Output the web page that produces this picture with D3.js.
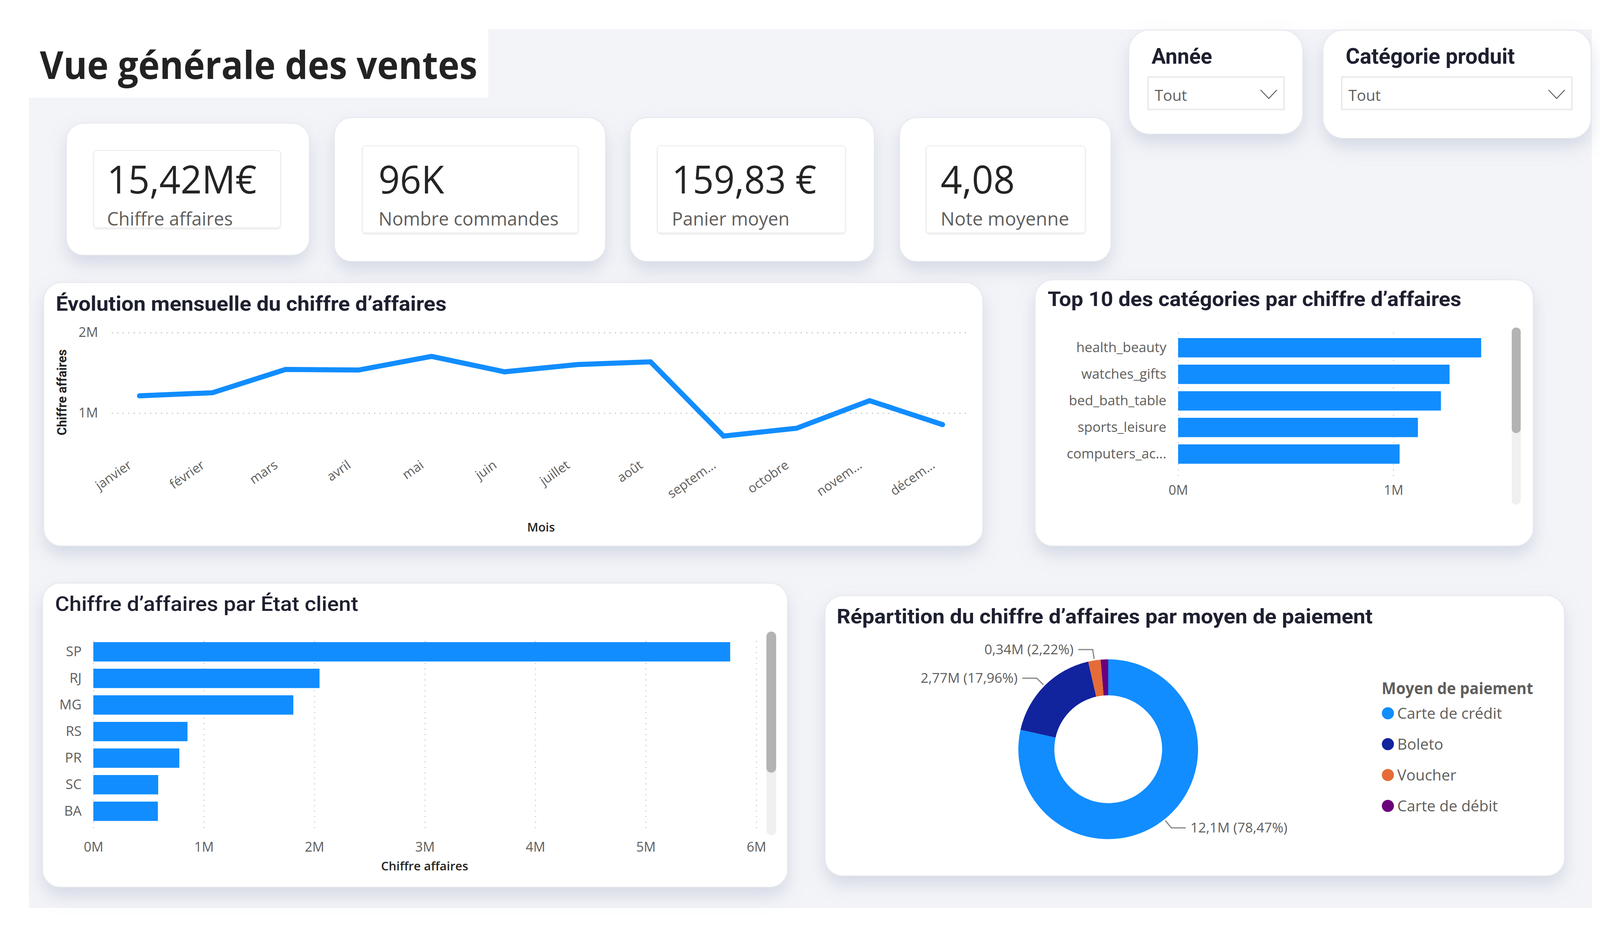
<!DOCTYPE html>
<html><head><meta charset="utf-8">
<script src="https://cdn.jsdelivr.net/npm/d3@7"></script>
<style>body{margin:0;background:#fff}svg{display:block}</style>
</head><body>
<svg id="c" width="4150" height="2400"></svg>
<script>
// ---------------- DATA ----------------
const pageTitle = "Vue générale des ventes";
const kpiValues = ["15,42M€", "96K", "159,83 €", "4,08"];
const kpiLabels = ["Chiffre affaires", "Nombre commandes", "Panier moyen", "Note moyenne"];
const slicerTitles = ["Année", "Catégorie produit"];
const slicerValues = ["Tout", "Tout"];

const months = ["janvier","février","mars","avril","mai","juin","juillet","août","septembre","octobre","novembre","décembre"];
const monthLabels = ["janvier","février","mars","avril","mai","juin","juillet","août","septem...","octobre","novem...","décem..."];
const monthlyRevenue = [1215000,1253000,1542000,1535000,1705000,1513000,1603000,1637000,715000,812000,1155000,857000];
const lineYTicks = [1000000, 2000000];

const topCategories = ["health_beauty","watches_gifts","bed_bath_table","sports_leisure","computers_accessories"];
const topCategoryLabels = ["health_beauty","watches_gifts","bed_bath_table","sports_leisure","computers_ac..."];
const topCategoryRevenue = [1408000,1261000,1221000,1114000,1029000];
const topTicks = [0, 1000000];

const states = ["SP","RJ","MG","RS","PR","SC","BA"];
const stateRevenue = [5764000,2047000,1810000,852000,778000,587000,584000];
const stateTicks = [0,1000000,2000000,3000000,4000000,5000000,6000000];

const paymentMethods = ["Carte de crédit","Boleto","Voucher","Carte de débit"];
const paymentRevenue = [12100000,2770000,342000,208000];
const paymentLabels = ["12,1M (78,47%)","2,77M (17,96%)","0,34M (2,22%)",null];
const paymentColors = ["#118DFF","#12239E","#E66C37","#6B007B"];

// ---------------- STYLE ----------------
const SEGOE = "'Open Sans','Noto Sans',sans-serif";
const DIN = "Roboto,'Noto Sans',sans-serif";
const DARK = "#1e2030";
const GREY = "#605E5C";
const BLUE = "#118DFF";
const fmtM = d => (d/1e6) + "M";

const svg = d3.select("#c");
const defs = svg.append("defs");
const f = defs.append("filter").attr("id","sh").attr("x","-15%").attr("y","-15%").attr("width","130%").attr("height","150%");
f.append("feDropShadow").attr("dx",0).attr("dy",22).attr("stdDeviation",22)
  .attr("flood-color","#8793b0").attr("flood-opacity",0.28);
const f2 = defs.append("filter").attr("id","sh2").attr("x","-10%").attr("y","-10%").attr("width","120%").attr("height","130%");
f2.append("feDropShadow").attr("dx",0).attr("dy",2).attr("stdDeviation",2)
  .attr("flood-color","#9aa0aa").attr("flood-opacity",0.25);

function txt(g, x, y, s, o) {
  const t = g.append("text").attr("x",x).attr("y",y).text(s)
    .attr("font-family", o.family || SEGOE)
    .attr("font-size", o.size)
    .attr("font-weight", o.weight || 400)
    .attr("fill", o.fill || GREY);
  if (o.anchor) t.attr("text-anchor", o.anchor);
  if (o.width) t.attr("textLength", o.width).attr("lengthAdjust","spacingAndGlyphs");
  return t;
}
function card(x, y, w, h, r) {
  return svg.append("rect").attr("x",x).attr("y",y).attr("width",w).attr("height",h)
    .attr("rx",r).attr("ry",r).attr("fill","#fff")
    .attr("stroke","#e5e7ec").attr("stroke-width",2).attr("filter","url(#sh)");
}
function dotted(sel, color) {
  sel.attr("stroke", color || "#c8c6c4").attr("stroke-width",3).attr("stroke-dasharray","3,11");
}

// ---------------- BACKGROUND ----------------
svg.append("rect").attr("width",4150).attr("height",2400).attr("fill","#fff");
svg.append("rect").attr("x",74).attr("y",75).attr("width",4001).attr("height",2248).attr("fill","#F3F4F8");
svg.append("rect").attr("x",74).attr("y",75).attr("width",1176).attr("height",175).attr("fill","#fff");
txt(svg, 102, 202, pageTitle, {size:98, weight:700, fill:"#222222", width:1120});

// ---------------- KPI CARDS ----------------
const kpiCards = [[170,315,622,338],[856,301,694,368],[1613,301,625,368],[2303,301,541,368]];
const kpiInner = [[240,385,478,198],[928,373,552,223],[1683,373,481,223],[2371,373,407,223]];
const kpiTextX = [274,969,1720,2408];
const kpiValW = [383,168,370,190];
const kpiLabW = [322,461,301,329];
kpiValues.forEach((v,i) => {
  const c = kpiCards[i], n = kpiInner[i];
  card(c[0],c[1],c[2],c[3],44);
  svg.append("rect").attr("x",n[0]).attr("y",n[1]).attr("width",n[2]).attr("height",n[3])
    .attr("rx",8).attr("fill","#fff").attr("stroke","#ececee").attr("stroke-width",2).attr("filter","url(#sh2)");
  txt(svg, kpiTextX[i], 495, v, {size:98, fill:"#252423", width:kpiValW[i]});
  txt(svg, kpiTextX[i], 577, kpiLabels[i], {size:47, fill:GREY, width:kpiLabW[i]});
});

// ---------------- SLICERS ----------------
const slCards = [[2890,77,445,266],[3387,77,686,277]];
const slTitleX = [2948,3445], slTitleW = [155,433];
const slBox = [[2939,197,348,83],[3435,197,589,83]];
slicerTitles.forEach((s,i) => {
  const c = slCards[i], b = slBox[i];
  card(c[0],c[1],c[2],c[3],52);
  txt(svg, slTitleX[i], 163, s, {family:DIN, size:56, weight:700, fill:DARK, width:slTitleW[i]});
  svg.append("rect").attr("x",b[0]).attr("y",b[1]).attr("width",b[2]).attr("height",b[3])
    .attr("fill","#fff").attr("stroke","#e6e6e6").attr("stroke-width",3);
  txt(svg, b[0]+17, 258, slicerValues[i], {size:39, fill:GREY});
  const cx = b[0]+b[2]-39;
  svg.append("path").attr("d", d3.line()([[cx-21,230],[cx,252],[cx+21,230]]))
    .attr("fill","none").attr("stroke",GREY).attr("stroke-width",2.5);
});

// ---------------- LINE CHART ----------------
card(112,723,2404,674,45);
txt(svg, 143, 795, "Évolution mensuelle du chiffre d’affaires", {family:DIN, size:52, weight:700, fill:DARK, width:1000});
const xL = d3.scalePoint().domain(months).range([357,2413]);
const yL = d3.scaleLinear().domain([0,2000000]).range([1263,851]);
const gy = svg.append("g").attr("transform","translate(286,0)")
  .call(d3.axisLeft(yL).tickValues(lineYTicks).tickFormat(fmtM).tickSize(-2190).tickPadding(35));
gy.select(".domain").remove();
dotted(gy.selectAll(".tick line"));
gy.selectAll(".tick text").attr("font-family",SEGOE).attr("font-size",34).attr("fill",GREY);
const gx = svg.append("g").attr("transform","translate(0,1195)")
  .call(d3.axisBottom(xL).tickSize(0).tickFormat((d,i) => monthLabels[i]));
gx.select(".domain").remove();
gx.selectAll(".tick text").attr("font-family",SEGOE).attr("font-size",33).attr("fill",GREY)
  .attr("y",0).attr("dy",0).attr("text-anchor","end").attr("transform","translate(-18,0) rotate(-35)");
svg.append("path").datum(monthlyRevenue)
  .attr("d", d3.line().x((d,i) => xL(months[i])).y(d => yL(d)))
  .attr("fill","none").attr("stroke",BLUE).attr("stroke-width",13)
  .attr("stroke-linejoin","miter").attr("stroke-linecap","round");
svg.append("text").attr("transform","translate(170,1004) rotate(-90)").attr("text-anchor","middle")
  .attr("font-family",DIN).attr("font-weight",700).attr("font-size",34).attr("fill","#252423")
  .attr("textLength",220).attr("lengthAdjust","spacingAndGlyphs").text("Chiffre affaires");
txt(svg, 1385, 1360, "Mois", {size:31, weight:600, fill:"#252423", anchor:"middle"});

// ---------------- TOP 10 CATEGORIES ----------------
card(2650,716,1275,681,45);
txt(svg, 2682, 783, "Top 10 des catégories par chiffre d’affaires", {family:DIN, size:52, weight:700, fill:DARK, width:1059});
const xT = d3.scaleLinear().domain([0,1000000]).range([3016,3567]);
const yT = d3.scaleBand().domain(topCategories).range([846.5,1205]).padding(0.272);
const gxt = svg.append("g").attr("transform","translate(0,1218)")
  .call(d3.axisBottom(xT).tickValues(topTicks).tickFormat(fmtM).tickSize(-377).tickPadding(24));
gxt.select(".domain").remove();
dotted(gxt.selectAll(".tick line"), "#d4d4d4");
gxt.selectAll(".tick text").attr("font-family",SEGOE).attr("font-size",34).attr("fill",GREY);
svg.append("g").selectAll("rect").data(topCategoryRevenue).join("rect")
  .attr("x", xT(0)).attr("y",(d,i) => yT(topCategories[i]))
  .attr("width", d => xT(d) - xT(0)).attr("height", yT.bandwidth()).attr("fill",BLUE);
const gyt = svg.append("g").attr("transform","translate(3016,0)")
  .call(d3.axisLeft(yT).tickSize(0).tickPadding(30).tickFormat((d,i) => topCategoryLabels[i]));
gyt.select(".domain").remove();
gyt.selectAll(".tick text").attr("font-family",SEGOE).attr("font-size",35).attr("fill",GREY);
svg.append("rect").attr("x",3870).attr("y",838).attr("width",23).attr("height",453).attr("rx",11.5).attr("fill","#f0f0f0");
svg.append("rect").attr("x",3870).attr("y",838).attr("width",23).attr("height",270).attr("rx",11.5).attr("fill","#b3b3b3");

// ---------------- STATE BAR CHART ----------------
card(109,1492,1907,778,45);
txt(svg, 141, 1563, "Chiffre d’affaires par État client", {family:DIN, size:52, weight:500, fill:DARK, width:776});
const xS = d3.scaleLinear().domain([0,6000000]).range([239,1936]);
const yS = d3.scaleBand().domain(states).range([1624.5,2119]).padding(0.272);
const gxs = svg.append("g").attr("transform","translate(0,2119)")
  .call(d3.axisBottom(xS).tickValues(stateTicks).tickFormat(fmtM).tickSize(-489).tickPadding(36));
gxs.select(".domain").remove();
dotted(gxs.selectAll(".tick line"), "#d4d4d4");
gxs.selectAll(".tick text").attr("font-family",SEGOE).attr("font-size",34).attr("fill",GREY);
svg.append("g").selectAll("rect").data(stateRevenue).join("rect")
  .attr("x", xS(0)).attr("y",(d,i) => yS(states[i]))
  .attr("width", d => xS(d) - xS(0)).attr("height", yS.bandwidth()).attr("fill",BLUE);
const gys = svg.append("g").attr("transform","translate(239,0)")
  .call(d3.axisLeft(yS).tickSize(0).tickPadding(30));
gys.select(".domain").remove();
gys.selectAll(".tick text").attr("font-family",SEGOE).attr("font-size",35).attr("fill",GREY);
txt(svg, 1087, 2227, "Chiffre affaires", {size:31, weight:600, fill:"#252423", anchor:"middle"});
svg.append("rect").attr("x",1962).attr("y",1616).attr("width",25).attr("height",521).attr("rx",12.5).attr("fill","#f0f0f0");
svg.append("rect").attr("x",1962).attr("y",1616).attr("width",25).attr("height",361).attr("rx",12.5).attr("fill","#b3b3b3");

// ---------------- DONUT ----------------
card(2112,1524,1893,717,45);
txt(svg, 2142, 1595, "Répartition du chiffre d’affaires par moyen de paiement", {family:DIN, size:52, weight:700, fill:DARK, width:1372});
const cx = 2837, cy = 1917, rOut = 230, rIn = 138;
const pie = d3.pie().sort(null).value(d => d)(paymentRevenue);
const arc = d3.arc().innerRadius(rIn).outerRadius(rOut);
const gd = svg.append("g").attr("transform",`translate(${cx},${cy})`);
gd.selectAll("path").data(pie).join("path").attr("d",arc).attr("fill",(d,i) => paymentColors[i]);
const pt = (a, r) => [r*Math.sin(a), -r*Math.cos(a)];
pie.forEach((d,i) => {
  if (!paymentLabels[i]) return;
  const a = (d.startAngle + d.endAngle)/2;
  const side = Math.sin(a) >= 0 ? 1 : -1;
  const p0 = pt(a, rOut+4), p1 = pt(a, rOut+28), p2 = [p1[0] + side*37, p1[1]];
  gd.append("path").attr("d", d3.line()([p0,p1,p2])).attr("fill","none").attr("stroke","#858585").attr("stroke-width",3);
  gd.append("text").attr("x", p2[0] + side*12).attr("y", p2[1]).attr("dy","0.35em")
    .attr("text-anchor", side > 0 ? "start" : "end")
    .attr("font-family",SEGOE).attr("font-size",35).attr("fill",GREY).text(paymentLabels[i]);
});
// legend
txt(svg, 3537, 1776, "Moyen de paiement", {size:41, weight:700, fill:GREY, width:388});
const lg = svg.append("g").selectAll("g").data(paymentMethods).join("g")
  .attr("transform",(d,i) => `translate(3553,${1825 + i*79})`);
lg.append("circle").attr("r",15.5).attr("fill",(d,i) => paymentColors[i]);
lg.append("text").attr("x",24).attr("y",14).attr("font-family",SEGOE).attr("font-size",39)
  .attr("fill",GREY).text(d => d);
</script>
</body></html>
